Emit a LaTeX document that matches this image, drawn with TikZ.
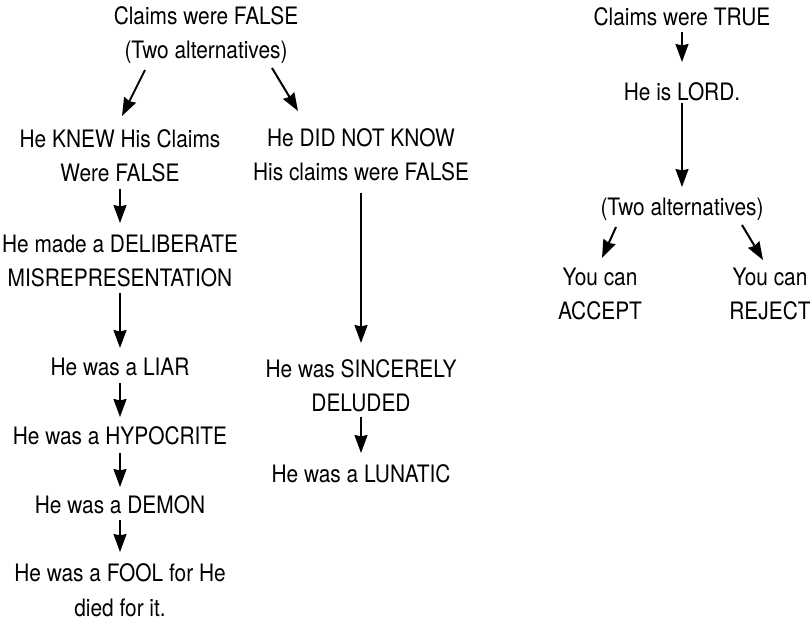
\documentclass[tikz,border=0pt]{standalone}
\usepackage{fontspec}
\setmainfont{TeX Gyre Heros}[FakeStretch=0.87]
\usetikzlibrary{arrows.meta}

\begin{document}
\begin{tikzpicture}[x=1pt,y=-1pt,
  txt/.style={anchor=base,align=center,inner sep=0pt,font=\fontsize{24}{34.5}\selectfont},
  arr/.style={line width=2pt,-{Stealth[length=18pt,width=13pt,inset=1.5pt]}}]
\useasboundingbox (0,0) rectangle (810,621);

% claims false (base = last line)
\node[txt] (false) at (206,58.5) {Claims were FALSE\\(Two alternatives)};
\node[txt] (knew) at (120,181.5) {He KNEW His Claims\\Were FALSE};
\node[txt] (notknow) at (361,180.5) {He DID NOT KNOW\\His claims were FALSE};

\node[txt] (made) at (120,286.5) {He made a DELIBERATE\\MISREPRESENTATION};
\node[txt] (liar) at (120,375) {He was a LIAR};
\node[txt] (hypo) at (120,444) {He was a HYPOCRITE};
\node[txt] (demon) at (120,513) {He was a DEMON};
\node[txt] (fool) at (120,616) {He was a FOOL for He\\died for it.};

\node[txt] (sincere) at (361,411.5) {He was SINCERELY\\DELUDED};
\node[txt] (lunatic) at (361,482) {He was a LUNATIC};

% claims true
\node[txt] (true) at (682,25) {Claims were TRUE};
\node[txt] (lord) at (682,100) {He is LORD.};
\node[txt] (alt) at (682,215) {(Two alternatives)};
\node[txt] (accept) at (600,319.5) {You can\\ACCEPT};
\node[txt] (reject) at (770,319.5) {You can\\REJECT};

\draw[arr] ([xshift=-61pt,yshift=-11.5pt]false.base) -- ([xshift=2pt,yshift=65.5pt]knew.base);
\draw[arr] ([xshift=66pt,yshift=-9.5pt]false.base) -- ([xshift=-63pt,yshift=69.5pt]notknow.base);

\draw[arr] ([yshift=-7.5pt]knew.base) -- ([yshift=63.5pt]made.base);
\draw[arr] ([yshift=-6.5pt]made.base) -- ([yshift=27pt]liar.base);
\draw[arr] ([yshift=-8pt]liar.base) -- ([yshift=27pt]hypo.base);
\draw[arr] ([yshift=-9pt]hypo.base) -- ([yshift=26pt]demon.base);
\draw[arr] ([yshift=-7pt]demon.base) -- ([yshift=64pt]fool.base);

\draw[arr] ([yshift=-12.5pt]notknow.base) -- ([yshift=68.5pt]sincere.base);
\draw[arr] ([yshift=-5.5pt]sincere.base) -- ([yshift=29pt]lunatic.base);

\draw[arr] ([yshift=-7pt]true.base) -- ([yshift=38pt]lord.base);
\draw[arr] ([yshift=-3pt]lord.base) -- ([yshift=28pt]alt.base);
\draw[arr] ([xshift=-66pt,yshift=-12pt]alt.base) -- ([xshift=2pt,yshift=61.5pt]accept.base);
\draw[arr] ([xshift=60pt,yshift=-10pt]alt.base) -- ([xshift=-7pt,yshift=59.5pt]reject.base);

\end{tikzpicture}
\end{document}
